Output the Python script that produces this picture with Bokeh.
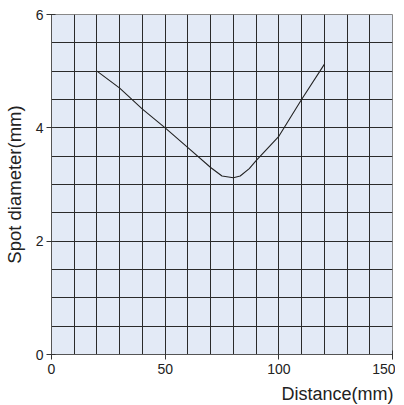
from bokeh.plotting import figure
from bokeh.embed import file_html
from bokeh.resources import INLINE
from bokeh.models import FixedTicker, Range1d, Title

distance = [20, 30, 40, 50, 60, 70, 75, 80, 83, 87, 90, 100, 110, 120]
spot_diameter = [5.0, 4.7, 4.33, 4.0, 3.65, 3.3, 3.15, 3.12, 3.15, 3.28, 3.42, 3.85, 4.5, 5.12]
x_ticks = [0, 50, 100, 150]
y_ticks = [0, 2, 4, 6]
x_grid = list(range(0, 151, 10))
y_grid = [i * 0.5 for i in range(13)]

p = figure(frame_width=341, frame_height=340, output_backend="svg", toolbar_location=None,
           x_range=Range1d(0, 150), y_range=Range1d(0, 6),
           min_border_left=51, min_border_right=3, min_border_top=14, min_border_bottom=0)

p.background_fill_color = "#e3eaf6"
p.border_fill_color = "white"
p.outline_line_color = "#888888"
p.outline_line_width = 1

p.xgrid.ticker = FixedTicker(ticks=x_grid)
p.ygrid.ticker = FixedTicker(ticks=y_grid)
for g in (p.xgrid, p.ygrid):
    g.grid_line_color = "#2a2a2a"
    g.grid_line_width = 1
    g.grid_line_alpha = 1.0

p.xaxis.ticker = FixedTicker(ticks=x_ticks)
p.yaxis.ticker = FixedTicker(ticks=y_ticks)
for ax in (p.xaxis, p.yaxis):
    ax.axis_line_color = "#555555"
    ax.major_tick_line_color = "#333333"
    ax.major_tick_in = 4
    ax.major_tick_out = 5
    ax.minor_tick_line_color = None
    ax.major_label_text_font = "Liberation Sans"
    ax.major_label_text_font_size = "14px"
    ax.major_label_text_color = "#222222"

p.xaxis.major_label_standoff = 4
p.yaxis.major_label_standoff = 3
p.yaxis.axis_label = "Spot diameter(mm)"
p.yaxis.axis_label_text_font = "Liberation Sans"
p.yaxis.axis_label_text_font_size = "18.5px"
p.yaxis.axis_label_text_font_style = "normal"
p.yaxis.axis_label_text_color = "#222222"
p.yaxis.axis_label_standoff = 8

t = Title(text="Distance(mm)", align="right", text_font="Liberation Sans",
          text_font_size="18px", text_font_style="normal", text_color="#222222",
          offset=-1)
p.add_layout(t, "below")

p.line(distance, spot_diameter, line_color="#222222", line_width=1.1)

open("out.html", "w").write(file_html(p, INLINE))
